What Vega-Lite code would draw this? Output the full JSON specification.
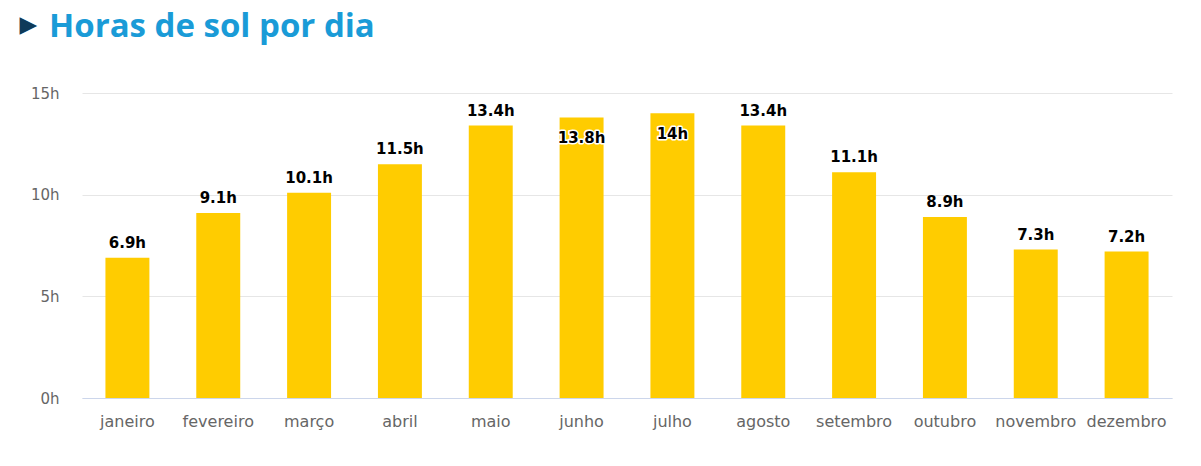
{
  "$schema": "https://vega.github.io/schema/vega-lite/v6.json",
  "width": 1090,
  "height": 305,
  "autosize": {"type": "none"},
  "padding": {"left": 82, "top": 93, "right": 29, "bottom": 68},
  "background": "white",
  "title": {
    "text": "Horas de sol por dia",
    "anchor": "start",
    "frame": "group",
    "font": "Open Sans",
    "fontSize": 33,
    "fontWeight": "bold",
    "color": "#1a9bd7",
    "baseline": "alphabetic",
    "dx": -33,
    "offset": -57
  },
  "config": {
    "view": {"stroke": null},
    "axis": {"labelFont": "DejaVu Sans", "labelFontSize": 15, "labelColor": "#666666"}
  },
  "data": {
    "values": [
      {"mes": "janeiro", "horas": 6.9, "rotulo": "6.9h", "posicao": "acima"},
      {"mes": "fevereiro", "horas": 9.1, "rotulo": "9.1h", "posicao": "acima"},
      {"mes": "março", "horas": 10.1, "rotulo": "10.1h", "posicao": "acima"},
      {"mes": "abril", "horas": 11.5, "rotulo": "11.5h", "posicao": "acima"},
      {"mes": "maio", "horas": 13.4, "rotulo": "13.4h", "posicao": "acima"},
      {"mes": "junho", "horas": 13.8, "rotulo": "13.8h", "posicao": "dentro"},
      {"mes": "julho", "horas": 14.0, "rotulo": "14h", "posicao": "dentro"},
      {"mes": "agosto", "horas": 13.4, "rotulo": "13.4h", "posicao": "acima"},
      {"mes": "setembro", "horas": 11.1, "rotulo": "11.1h", "posicao": "acima"},
      {"mes": "outubro", "horas": 8.9, "rotulo": "8.9h", "posicao": "acima"},
      {"mes": "novembro", "horas": 7.3, "rotulo": "7.3h", "posicao": "acima"},
      {"mes": "dezembro", "horas": 7.2, "rotulo": "7.2h", "posicao": "acima"}
    ]
  },
  "encoding": {
    "x": {
      "field": "mes",
      "type": "nominal",
      "sort": null,
      "scale": {"paddingInner": 0.516, "paddingOuter": 0.258},
      "axis": {
        "title": null,
        "labelAngle": 0,
        "labelFontSize": 16,
        "ticks": false,
        "domainColor": "#ccd6eb",
        "domainWidth": 1,
        "labelPadding": 15,
        "grid": false
      }
    },
    "y": {
      "field": "horas",
      "type": "quantitative",
      "scale": {"domain": [0, 15], "nice": false},
      "axis": {
        "title": "▶",
        "titleAngle": 0,
        "titleX": -63,
        "titleY": -69,
        "titleAlign": "left",
        "titleBaseline": "middle",
        "titleColor": "#0e3a5a",
        "titleFont": "DejaVu Sans",
        "titleFontSize": 23,
        "values": [0, 5, 10, 15],
        "labelExpr": "datum.value + 'h'",
        "domain": false,
        "ticks": false,
        "labelPadding": 23,
        "gridColor": "#e6e6e6",
        "gridWidth": 1
      }
    }
  },
  "layer": [
    {"mark": {"type": "bar", "color": "#ffcc00"}},
    {
      "transform": [{"filter": "datum.posicao == 'acima'"}],
      "mark": {"type": "text", "font": "DejaVu Sans", "fontSize": 15, "fontWeight": "bold", "color": "#000000", "baseline": "alphabetic", "dy": -10},
      "encoding": {"text": {"field": "rotulo"}}
    },
    {
      "transform": [{"filter": "datum.posicao == 'dentro'"}],
      "mark": {"type": "text", "font": "DejaVu Sans", "fontSize": 15, "fontWeight": "bold", "color": "#000000", "stroke": "#ffffff", "strokeWidth": 3, "strokeJoin": "round", "baseline": "alphabetic", "dy": 26},
      "encoding": {"text": {"field": "rotulo"}}
    },
    {
      "transform": [{"filter": "datum.posicao == 'dentro'"}],
      "mark": {"type": "text", "font": "DejaVu Sans", "fontSize": 15, "fontWeight": "bold", "color": "#000000", "baseline": "alphabetic", "dy": 26},
      "encoding": {"text": {"field": "rotulo"}}
    }
  ]
}
